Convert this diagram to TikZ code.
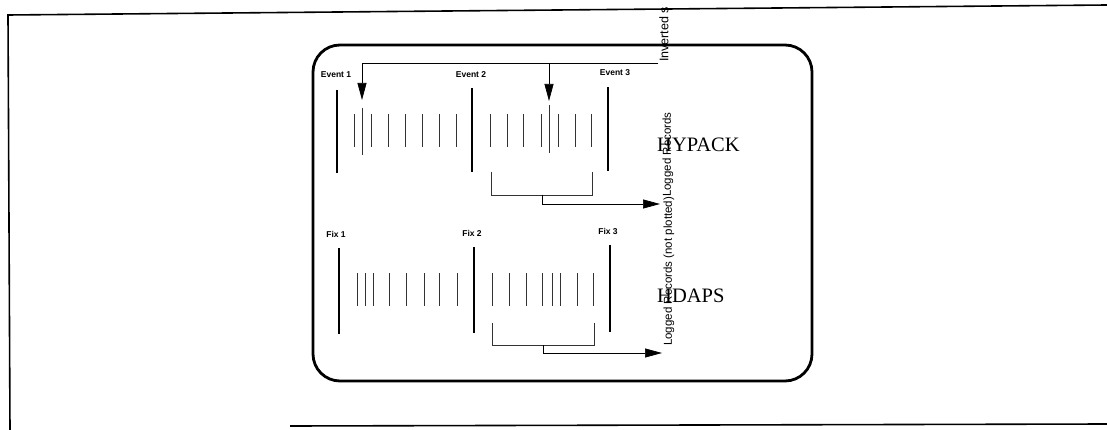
\documentclass[tikz,border=0pt]{standalone}
\usepackage{fontspec}
\setmainfont{Liberation Serif}
\setsansfont{Liberation Sans}
\usetikzlibrary{arrows.meta, positioning, calc}

\tikzset{
  frame/.style={line width=1.6pt},
  panel/.style={line width=2.8pt, rounded corners=27pt},
  markbar/.style={line width=2.8pt},
  recline/.style={line width=0.9pt, black!80},
  bracket/.style={line width=0.6pt, black!80},
  feed/.style={line width=0.7pt, -{Triangle[length=17pt,width=9pt]}},
  marklabel/.style={font=\sffamily\bfseries\fontsize{8.5}{8.5}\selectfont, inner sep=0pt},
  sidelabel/.style={font=\sffamily\fontsize{11.5}{11.5}\selectfont, rotate=90, anchor=west, inner sep=0pt},
  system/.style={font=\fontsize{20.5}{20.5}\selectfont, anchor=west, inner sep=0pt}
}

\begin{document}
\begin{tikzpicture}[x=1pt, y=-1pt]
  \clip (0,0) rectangle (1107,430);
  % outer frame
  \draw[frame] (1107,5) -- (8,15) -- (10,430);
  \draw[frame] (290,426) -- (1107,424);
  % panel
  \draw[panel] (313,45) rectangle (812,381);

  % HYPACK part
  \node[marklabel] (ev1) at (336,75) {Event 1};
  \node[marklabel] (ev2) at (471,75) {Event 2};
  \node[marklabel] (ev3) at (615,73) {Event 3};
  \draw[markbar] (337,90) -- (337,173);
  \draw[markbar] (472,88) -- (472,172);
  \draw[markbar] (608,87) -- (608,171);
  \foreach \x in {354,371,388,405,422,439,456,490,507,523,541,558,575,591}
    \draw[recline] (\x,114) -- (\x,147);
  \draw[recline] (362,108) -- (362,155);
  \draw[recline] (549,105) -- (549,153);

  % inverted soundings
  \node[sidelabel, font=\sffamily\fontsize{12.5}{12.5}\selectfont] (inv) at (664,62) {Inverted s};
  \coordinate (invend) at (658,63);
  \coordinate (hit1) at (362,100);
  \coordinate (hit2) at (549,101);
  \draw[feed] (invend) -| (hit1);
  \draw[feed] (invend -| hit2) -- (hit2);

  % logged records
  \coordinate (brA) at (491,172);
  \coordinate (brB) at (592,172);
  \draw[bracket] (brA) |- (592,195) -- (brB);
  \coordinate (logA) at (660,204);
  \draw[feed] (542,195) |- (logA);
  \node[sidelabel] (reca) at (668,197) {Logged Records};
  \node[system] (hypack) at (657,145) {HYPACK};

  % HDAPS part
  \node[marklabel] (fx1) at (336,234) {Fix 1};
  \node[marklabel] (fx2) at (472,233) {Fix 2};
  \node[marklabel] (fx3) at (608,231) {Fix 3};
  \draw[markbar] (339,248) -- (339,334);
  \draw[markbar] (474,247) -- (474,333);
  \draw[markbar] (610,245) -- (610,332);
  \foreach \x in {357,365,373,389,406,424,439,457,492,509,526,542,552,560,577,593}
    \draw[recline] (\x,273) -- (\x,306);

  \coordinate (brC) at (492,323);
  \coordinate (brD) at (594,323);
  \draw[bracket] (brC) |- (594,345) -- (brD);
  \coordinate (logB) at (662,353);
  \draw[feed] (543,345) |- (logB);
  \node[sidelabel] (recb) at (669,346) {Logged Records (not plotted)};
  \node[system] (hdaps) at (657,296) {HDAPS};
\end{tikzpicture}
\end{document}
